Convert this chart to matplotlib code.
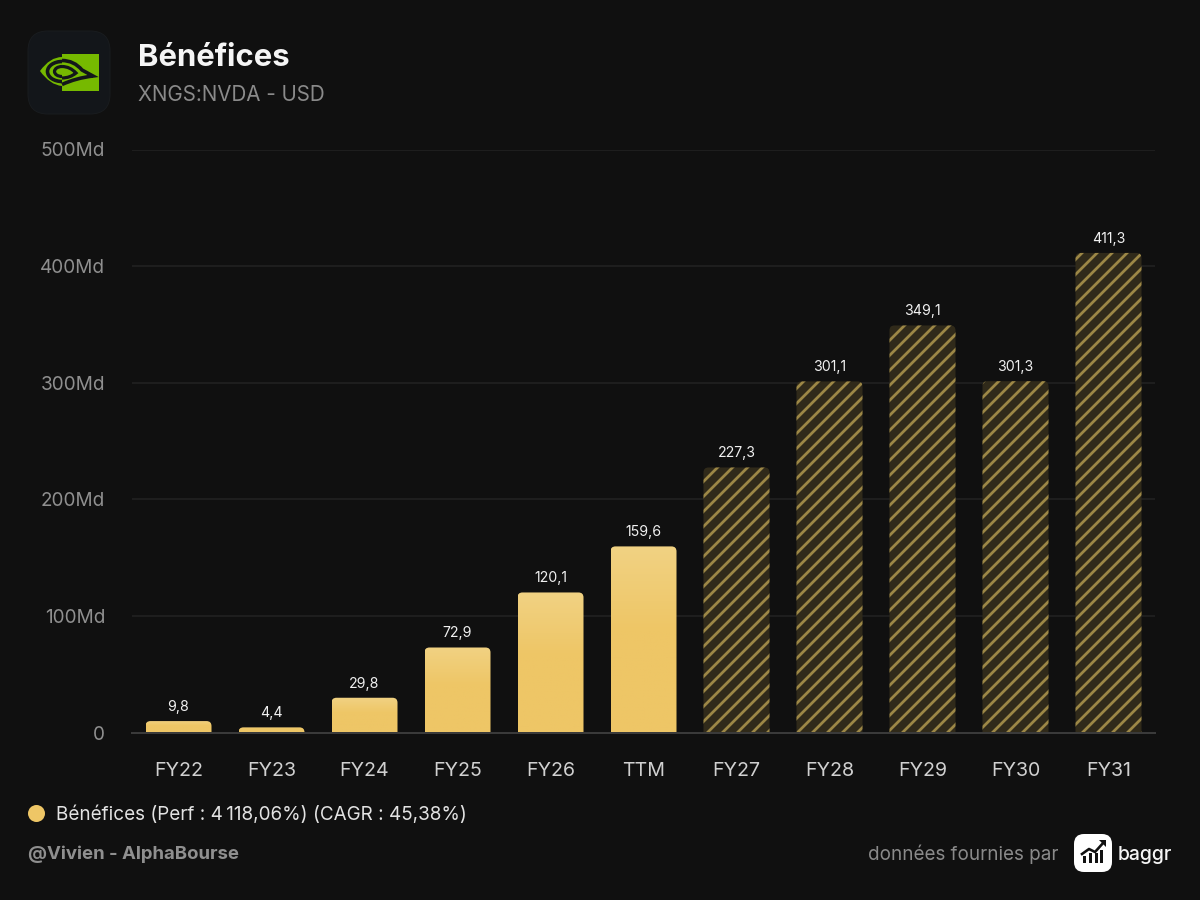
import numpy as np
import matplotlib
matplotlib.use('Agg')
import matplotlib.pyplot as plt
from matplotlib.patches import FancyBboxPatch, PathPatch, Circle, Polygon, Rectangle, Ellipse
from matplotlib.path import Path
from matplotlib.colors import LinearSegmentedColormap

# dpi 90 : le motif hachure fait alors ~15 px d'espacement, comme la reference
DPI = 90
plt.rcParams['font.family'] = ['Inter', 'DejaVu Sans']
plt.rcParams['hatch.linewidth'] = 2.2


def px(v):
    """taille en pixels -> points"""
    return v * 72 / DPI


categories = ['FY22', 'FY23', 'FY24', 'FY25', 'FY26', 'TTM', 'FY27', 'FY28', 'FY29', 'FY30', 'FY31']
values = [9.8, 4.4, 29.8, 72.9, 120.1, 159.6, 227.3, 301.1, 349.1, 301.3, 411.3]
is_estimate = [False] * 6 + [True] * 5
y_ticks = [0, 100, 200, 300, 400, 500]
y_labels = ['0', '100Md', '200Md', '300Md', '400Md', '500Md']

BG = '#101010'
GOLD = '#eec666'
HATCH = '#9c8746'
HATCH_BG = '#302a1a'
GREEN = '#76b900'
ICON = '#13161a'

fig = plt.figure(figsize=(1200 / DPI, 900 / DPI), dpi=DPI, facecolor=BG)

ax = fig.add_axes([132 / 1200, (900 - 732.5) / 900, 1023 / 1200, 583 / 900], facecolor=BG)
for s in ax.spines.values():
    s.set_visible(False)
ax.set_yticks(y_ticks)
ax.set_yticklabels(y_labels)
ax.set_xticks(range(len(categories)))
ax.set_xticklabels(categories)
ax.tick_params(axis='y', length=0, pad=px(27), labelsize=px(19), labelcolor='#8f8f8f')
ax.tick_params(axis='x', length=0, pad=px(30), labelsize=px(19.6), labelcolor='#d0d0d0')
ax.set_axisbelow(True)
ax.grid(axis='y', color='#222222', linewidth=px(1.6))
ax.axhline(0, color='#3a3a3a', linewidth=px(2), zorder=5, clip_on=False)

x_unit = 1023 / 11
y_unit = 583 / 500
bar_w = 66 / x_unit
r_x = 5 / x_unit
r_y = 5 / y_unit
grad = LinearSegmentedColormap.from_list('g', [(0, '#f1d283'), (0.45, GOLD), (1, GOLD)])


def bar_path(i, v):
    # haut arrondi, bas droit
    l, r = i - bar_w / 2, i + bar_w / 2
    ry = min(r_y, v)
    verts = [(l, 0), (l, v - ry), (l, v), (l + r_x, v), (r - r_x, v), (r, v), (r, v - ry), (r, 0), (l, 0)]
    codes = [Path.MOVETO, Path.LINETO, Path.CURVE3, Path.CURVE3, Path.LINETO,
             Path.CURVE3, Path.CURVE3, Path.LINETO, Path.CLOSEPOLY]
    return Path(verts, codes)


for i, (v, est) in enumerate(zip(values, is_estimate)):
    if est:
        ax.add_patch(PathPatch(bar_path(i, v), facecolor=HATCH_BG, edgecolor=HATCH, hatch='//', linewidth=0, zorder=3))
    else:
        clip = PathPatch(bar_path(i, v), facecolor='none', edgecolor='none', transform=ax.transData)
        ax.add_patch(clip)
        im = ax.imshow(np.linspace(0, 1, 64).reshape(-1, 1), cmap=grad, aspect='auto',
                       extent=(i - bar_w / 2, i + bar_w / 2, 0, v), zorder=3, origin='upper')
        im.set_clip_path(clip)
    ax.annotate(f'{v:.1f}'.replace('.', ','), xy=(i, v), xytext=(0, px(14)), textcoords='offset points',
                ha='center', va='center', fontsize=px(14.2), color='#f0f0f0', zorder=6)
ax.set_xlim(-0.5, 10.5)
ax.set_ylim(0, 500)

# calque en pixels pour l'entete et le pied
ov = fig.add_axes([0, 0, 1, 1], facecolor='none')
ov.set_xlim(0, 1200)
ov.set_ylim(900, 0)
ov.axis('off')

# icone nvidia
ov.add_patch(FancyBboxPatch((40, 43), 58, 59, boxstyle='round,pad=12,rounding_size=20',
                            facecolor=ICON, edgecolor='#191c1f', linewidth=px(1)))
ov.add_patch(Rectangle((62, 54), 37, 37, facecolor=GREEN, linewidth=0))
lens = Path([(40, 71), (50, 57), (62, 57), (62, 86), (50, 85), (40, 71)],
            [Path.MOVETO, Path.CURVE3, Path.CURVE3, Path.LINETO, Path.CURVE3, Path.CURVE3])
ov.add_patch(PathPatch(lens, facecolor=GREEN, linewidth=0))
# anneaux sombres, cote gauche seulement
left_half = Rectangle((30, 50), 32, 45, transform=ov.transData)
for w, h, lw in [(29, 20, 3.6), (15, 10, 3.2)]:
    e = Ellipse((62, 71.5), w, h, facecolor='none', edgecolor=ICON, linewidth=px(lw))
    ov.add_patch(e)
    e.set_clip_path(left_half)
# contour et crochet, cote droit
outline = Path([(62, 60.5), (74, 60.5), (82, 70), (93, 76), (76, 78), (62, 84.5)],
               [Path.MOVETO, Path.CURVE3, Path.CURVE3, Path.LINETO, Path.CURVE3, Path.CURVE3])
ov.add_patch(PathPatch(outline, facecolor='none', edgecolor=ICON, linewidth=px(3.6), joinstyle='miter'))
hook = Path([(62, 66.5), (70, 66.5), (76, 73), (70, 78), (62, 78)],
            [Path.MOVETO, Path.CURVE3, Path.CURVE3, Path.CURVE3, Path.CURVE3])
ov.add_patch(PathPatch(hook, facecolor='none', edgecolor=ICON, linewidth=px(3.2)))

ov.text(138, 58, 'Bénéfices', fontsize=px(31), fontweight='bold', color='#f5f5f5', va='center', ha='left')
ov.text(138, 95, 'XNGS:NVDA - USD', fontsize=px(20.6), color='#8a8a8a', va='center', ha='left')

# legende et pied
ov.add_patch(Circle((36.5, 813.5), 8.5, facecolor=GOLD, linewidth=0))
ov.text(56, 815, 'Bénéfices (Perf : 4\u202f118,06%) (CAGR : 45,38%)', fontsize=px(18.9),
        color='#e2e2e2', va='center', ha='left')
ov.text(28, 854, '@Vivien - AlphaBourse', fontsize=px(18.6), fontweight='bold', color='#8f8f8f', va='center', ha='left')
ov.text(1058, 854, 'données fournies par', fontsize=px(18.8), color='#8a8a8a', va='center', ha='right')

# logo baggr
ov.add_patch(FancyBboxPatch((1082, 842), 22, 22, boxstyle='round,pad=8,rounding_size=10',
                            facecolor='white', edgecolor='none'))
for bx, by in [(1083, 856), (1089, 853), (1095, 853), (1100, 850)]:
    ov.add_patch(Rectangle((bx, by), 3.4, 862.5 - by, facecolor='#111111', linewidth=0))
ov.plot([1082, 1089, 1095, 1104], [854, 849, 852, 842], color='#111111', linewidth=px(2.6))
ov.add_patch(Polygon([(1099, 840), (1106, 840), (1106, 847)], facecolor='#111111', linewidth=0))
ov.text(1118, 855, 'baggr', fontsize=px(19.4), fontweight='medium', color='#f5f5f5', va='center', ha='left')

fig.savefig('out.png', dpi=DPI, facecolor=BG)
